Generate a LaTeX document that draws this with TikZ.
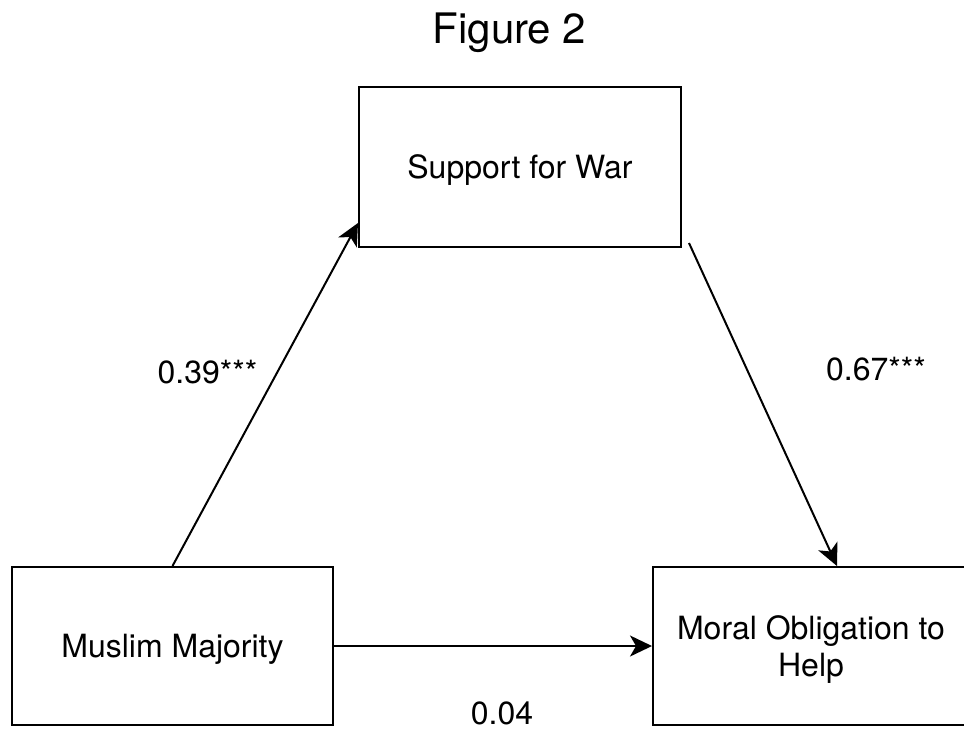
\documentclass[tikz,border=0pt]{standalone}
\usepackage{fontspec}
\setmainfont{TeX Gyre Heros}
\usetikzlibrary{arrows.meta}
\begin{document}
\begin{tikzpicture}[x=1pt,y=-1pt,
  box/.style={draw=black,line width=2pt,fill=white,minimum width=#1,inner sep=0pt,
    font=\fontsize{32}{37}\selectfont,align=center,text depth=0pt},
  box/.default=322pt,
  lbl/.style={font=\fontsize{32}{37}\selectfont,anchor=base,inner sep=0pt},
  conn/.style={draw=black,line width=2pt,-{Stealth[length=22pt,width=21pt,inset=6pt]}}]
\clip (0,0) rectangle (964,732);
\useasboundingbox (0,0) rectangle (964,732);
\node[font=\fontsize{42}{48}\selectfont,anchor=base,inner sep=0pt] (title) at (509.5,43) {Figure 2};
\node[box=322pt,minimum height=160pt] (sw) at (520,167) {Support for War};
\node[box=321pt,minimum height=158pt] (mm) at (172.5,646) {Muslim Majority};
\node[box=316pt,minimum height=158pt] (mo) at (811,646) {Moral Obligation to\\Help};
\draw[conn] (mm.north) -- ([yshift=25pt]sw.south west);
\draw[conn] ([xshift=7pt,yshift=5pt]sw.south east) -- ([xshift=26pt]mo.north);
\draw[conn] (mm.east) -- (mo.west);
\node[lbl] (l1) at (207.5,383) {0.39***};
\node[lbl] (l2) at (876,380) {0.67***};
\node[lbl] (l3) at (502,724) {0.04};
\end{tikzpicture}
\end{document}
